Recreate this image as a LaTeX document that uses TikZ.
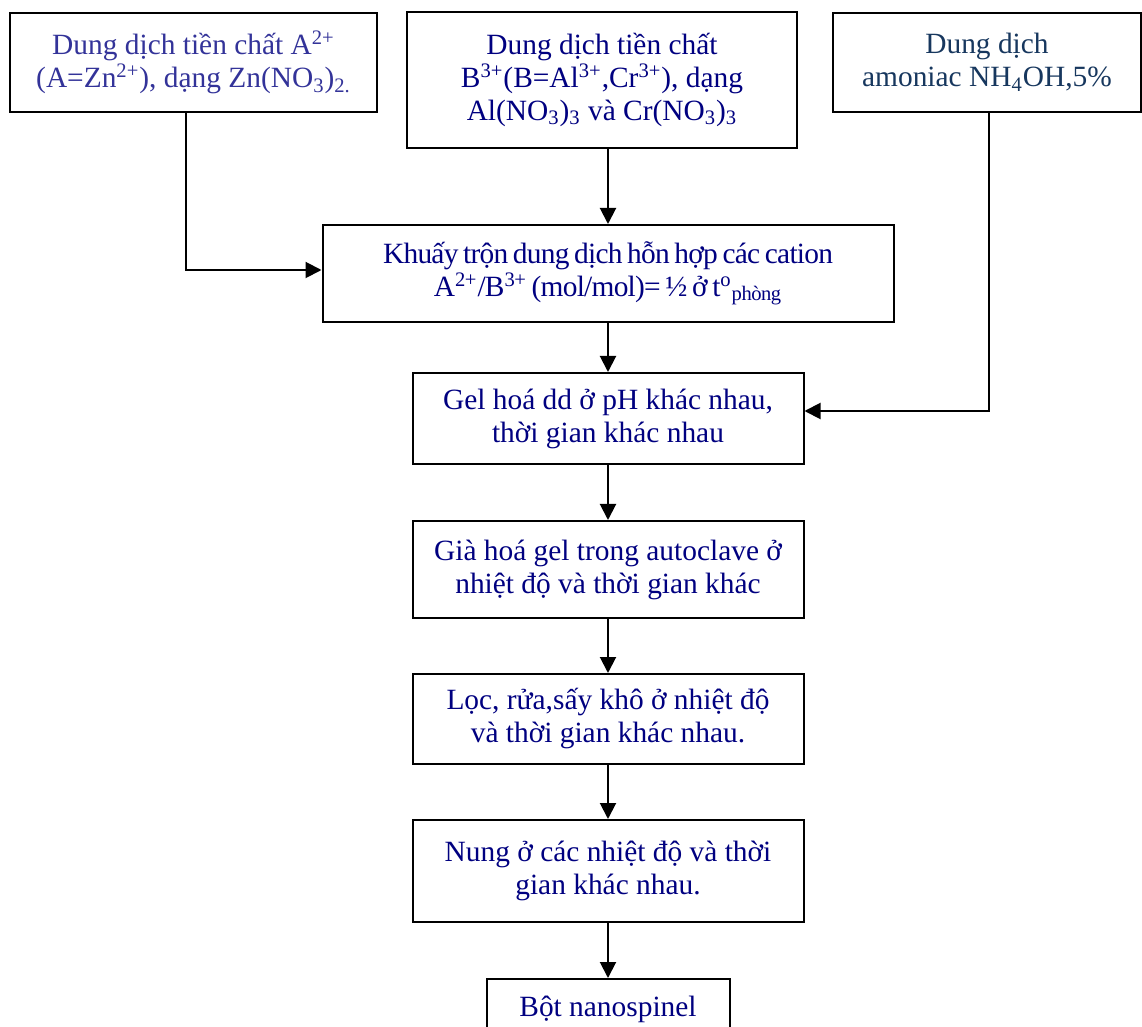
\documentclass[tikz,border=0pt]{standalone}
\usepackage{fontspec}
\setmainfont{Liberation Serif}
\usepackage{xcolor}
\usepackage{tikz}
\usetikzlibrary{arrows.meta}
\definecolor{navytext}{HTML}{000080}
\definecolor{violettext}{HTML}{333399}
\definecolor{steeltext}{HTML}{17375E}
\newfontfamily\tightserif[LetterSpace=-2.5, WordSpace=0.7]{Liberation Serif}
\tikzset{
  procbox/.style={draw, line width=1pt, align=center, inner sep=0pt, text=navytext, font=\fontsize{14.7}{16.5}\selectfont},
  flow/.style={line width=1pt, -{Triangle[length=8pt,width=8pt]}}
}

\begin{document}
\begin{tikzpicture}[x=0.5pt, y=-0.5pt]
        \useasboundingbox (0,0) rectangle (1142,1027);
        \node[procbox, text=violettext, minimum width=183.5pt, minimum height=49.5pt] (zinc) at (193.5,62.5) {Dung dịch tiền chất A\textsuperscript{2+}\\(A=Zn\textsuperscript{2+}), dạng Zn(NO\textsubscript{3})\textsubscript{2.}}; % A
        \node[procbox, minimum width=195pt, minimum height=68pt] (trival) at (602,80) {Dung dịch tiền chất\\B\textsuperscript{3+}(B=Al\textsuperscript{3+},Cr\textsuperscript{3+}), dạng\\Al(NO\textsubscript{3})\textsubscript{3} và Cr(NO\textsubscript{3})\textsubscript{3}}; % B
        \node[procbox, text=steeltext, minimum width=154pt, minimum height=49.5pt] (ammonia) at (987,62.5) {Dung dịch\\amoniac NH\textsubscript{4}OH,5\%}; % base
        \node[procbox, minimum width=285.5pt, minimum height=48.5pt, font=\tightserif\fontsize{14.7}{16.5}\selectfont] (mixing) at (608,273.5) {Khuấy trộn dung dịch hỗn hợp các cation\\A\textsuperscript{2+}/B\textsuperscript{3+} (mol/mol)= ½ ở t\textsuperscript{o}\textsubscript{phòng}};
        \node[procbox, minimum width=195.5pt, minimum height=45.5pt] (gelling) at (608,418.5) {Gel hoá dd ở pH khác nhau,\\thời gian khác nhau};
        \node[procbox, minimum width=195.5pt, minimum height=48.5pt] (aging) at (608,569.5) {Già hoá gel trong autoclave ở\\nhiệt độ và thời gian khác};
        \node[procbox, minimum width=195.5pt, minimum height=45pt] (washing) at (608,719) {Lọc, rửa,sấy khô ở nhiệt độ\\và thời gian khác nhau.};
        \node[procbox, minimum width=195.5pt, minimum height=51pt] (calcining) at (608,871) {Nung ở các nhiệt độ và thời\\gian khác nhau.};
        \node[procbox, minimum width=121.5pt, minimum height=30pt] (powder) at (608,1009) {Bột nanospinel}; % product

        \draw[flow] ([xshift=-3.75pt]zinc.south) |- ([yshift=1.75pt]mixing.west);
        \draw[flow] (trival.south -| mixing.north) -- (mixing.north);
        \draw[flow] ([xshift=1pt]ammonia.south) |- ([yshift=3.75pt]gelling.east);
        \draw[flow] (mixing) -- (gelling);
        \draw[flow] (gelling) -- (aging);
        \draw[flow] (aging) -- (washing);
        \draw[flow] (washing) -- (calcining);
        \draw[flow] (calcining) -- (powder);

    \end{tikzpicture}
\end{document}
